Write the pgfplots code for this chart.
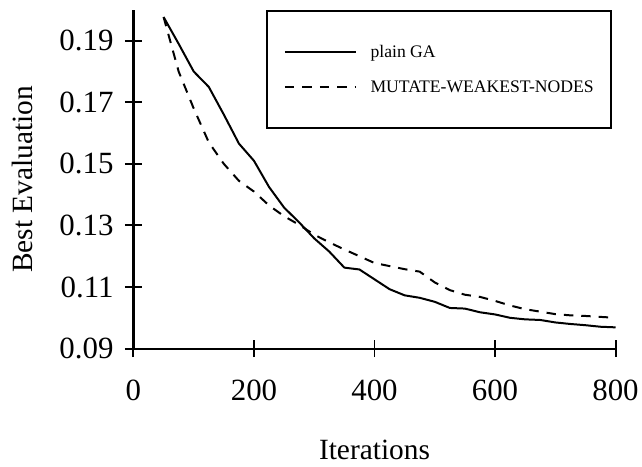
\documentclass[border=0pt]{standalone}
\usepackage{fontspec}
\setmainfont{Liberation Serif}
\usepackage{pgfplots}
\pgfplotsset{compat=1.18}
\usepackage{pgfplotstable}

\pgfplotstableread{
it    plain   mwn
50    0.1977  0.1977
75    0.1890  0.1800
100   0.1800  0.1680
125   0.1750  0.1570
150   0.1660  0.1500
175   0.1566  0.1445
200   0.1510  0.1410
225   0.1425  0.1365
250   0.1358  0.1330
275   0.1310  0.1302
300   0.1258  0.1270
325   0.1215  0.1245
350   0.1163  0.1222
375   0.1157  0.1200
400   0.1125  0.1178
425   0.1093  0.1168
450   0.1073  0.1158
475   0.1065  0.1150
500   0.1052  0.1115
525   0.1032  0.1090
550   0.1030  0.1075
575   0.1018  0.1068
600   0.1011  0.1055
625   0.1000  0.1040
650   0.0995  0.1028
675   0.0993  0.1020
700   0.0985  0.1012
725   0.0980  0.1008
750   0.0976  0.1006
775   0.0971  0.1003
800   0.0969  0.1000
}\datatable

\begin{document}
\begin{tikzpicture}
\begin{axis}[
  name=ax,
  scale only axis,
  width=484pt, height=340pt,
  xmin=0, xmax=800,
  ymin=0.09, ymax=0.2,
  axis lines*=left,
  axis line style={line width=2.2pt},
  tick align=center,
  major tick length=17pt,
  tick style={line width=2pt, black},
  xtick={0,200,400,600,800},
  xticklabels={0,200,400,600,800},
  ytick={0.09,0.11,0.13,0.15,0.17,0.19},
  yticklabels={0.09,0.11,0.13,0.15,0.17,0.19},
  tick label style={font=\fontsize{31}{36}\selectfont},
  xticklabel style={yshift=-19pt},
  yticklabel style={xshift=-8pt},
  label style={font=\fontsize{29.5}{34}\selectfont},
  xlabel={Iterations},
  ylabel={Best Evaluation},
  xlabel style={at={(axis description cs:0.5,-0.3265)}, anchor=base},
  ylabel style={at={(axis description cs:-0.2087,0.5)}, anchor=base},
  legend style={
    at={(0.992,1)}, anchor=north east,
    draw=black, line width=2pt,
    inner xsep=17pt, inner ysep=34pt,
    row sep=21.6pt, column sep=14pt,
    font=\fontsize{17.7}{20}\selectfont,
    nodes={inner sep=0pt, text depth=0.2em},
  },
  legend cell align=left,
  legend image code/.code={\draw[#1, line width=2pt] (0pt,0pt) -- (71pt,0pt);},
]
\addplot[black, line width=2pt, line join=round] table[x=it, y=plain] {\datatable};
\addlegendentry{plain GA}
\addplot[black, line width=2pt, dash pattern=on 9.5pt off 8pt] table[x=it, y=mwn] {\datatable};
\addlegendentry{MUTATE-WEAKEST-NODES}
\end{axis}
\path ([shift={(-134pt,-118pt)}]ax.south west) rectangle ([shift={(24pt,10pt)}]ax.north east);
\end{tikzpicture}
\end{document}
